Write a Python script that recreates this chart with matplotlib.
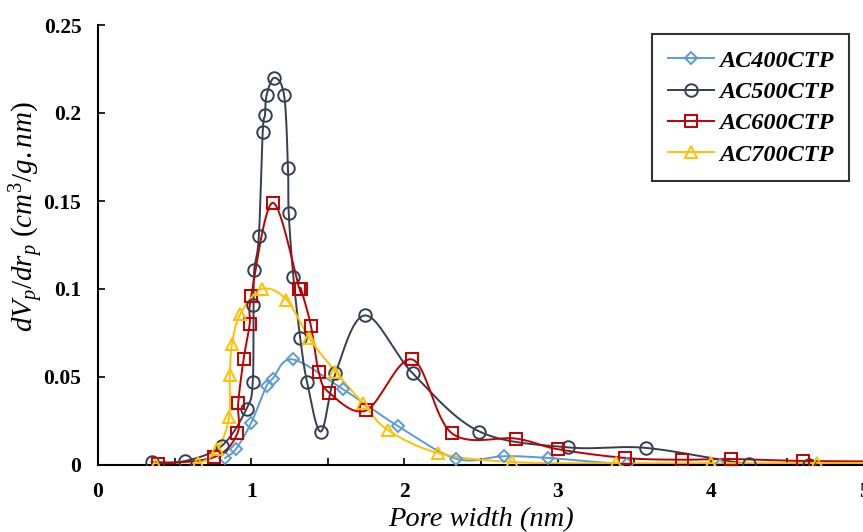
import numpy as np
import matplotlib
matplotlib.use("Agg")
import matplotlib.pyplot as plt
from matplotlib.ticker import MultipleLocator

plt.rcParams['font.family'] = ['Liberation Serif', 'DejaVu Serif']
plt.rcParams['mathtext.fontset'] = 'custom'
plt.rcParams['mathtext.rm'] = 'Liberation Serif'
plt.rcParams['mathtext.it'] = 'Liberation Serif:italic'

# data (pore width nm, dVp/drp)
x400 = [0.83, 0.90, 1.00, 1.10, 1.14, 1.27, 1.60, 1.96, 2.34, 2.65, 2.94, 3.45, 4.06, 5.2]
y400 = [0.004, 0.009, 0.024, 0.045, 0.049, 0.060, 0.043, 0.022, 0.0035, 0.005, 0.004, 0.0006, 0.0, 0.0]

x500 = [0.35, 0.57, 0.81, 0.97, 1.01, 1.015, 1.02, 1.05, 1.075, 1.09, 1.10, 1.15,
        1.215, 1.24, 1.245, 1.275, 1.32, 1.365, 1.455, 1.55, 1.745, 2.055, 2.49,
        3.07, 3.58, 4.25, 4.64, 5.2]
y500 = [0.0017, 0.0023, 0.011, 0.032, 0.047, 0.091, 0.111, 0.130, 0.189, 0.199, 0.210, 0.220,
        0.210, 0.169, 0.143, 0.107, 0.072, 0.047, 0.019, 0.052, 0.085, 0.052, 0.019,
        0.010, 0.0097, 0.0006, 0.0, 0.0]

x600 = [0.39, 0.76, 0.91, 0.915, 0.95, 0.99, 1.00, 1.14, 1.315, 1.325, 1.39, 1.44, 1.51,
        1.75, 2.05, 2.31, 2.73, 3.00, 3.44, 3.81, 4.13, 4.60, 5.2]
y600 = [0.0005, 0.0045, 0.018, 0.035, 0.060, 0.080, 0.096, 0.149, 0.100, 0.100, 0.079, 0.053, 0.041,
        0.031, 0.060, 0.018, 0.015, 0.009, 0.004, 0.003, 0.0034, 0.0023, 0.002]

x700 = [0.38, 0.65, 0.78, 0.855, 0.86, 0.875, 0.93, 1.07, 1.23, 1.38, 1.55, 1.73,
        1.89, 2.22, 2.70, 3.38, 4.00, 4.69, 5.2]
y700 = [0.0, 0.001, 0.009, 0.027, 0.051, 0.069, 0.086, 0.100, 0.094, 0.072, 0.053, 0.035,
        0.020, 0.0068, 0.0017, 0.001, 0.0011, 0.0011, 0.001]

names = ['AC400CTP', 'AC500CTP', 'AC600CTP', 'AC700CTP']
colors = ['#5B9BD5', '#333F50', '#C00000', '#FFC000']
markers = ['D', 'o', 's', '^']
msizes = [6, 9, 9, 9]


def smooth(xs, ys, n=20):
    # Excel-like smoothed line (Catmull-Rom bezier)
    p = np.column_stack([xs, ys]).astype(float)
    pts = np.vstack([p[0], p, p[-1]])
    out = []
    t = np.linspace(0, 1, n)[:, None]
    for i in range(1, len(pts) - 2):
        p0, p1, p2, p3 = pts[i - 1], pts[i], pts[i + 1], pts[i + 2]
        c1 = p1 + (p2 - p0) / 6
        c2 = p2 - (p3 - p1) / 6
        seg = ((1 - t) ** 3) * p1 + 3 * ((1 - t) ** 2) * t * c1 + 3 * (1 - t) * t ** 2 * c2 + t ** 3 * p2
        out.append(seg)
    out = np.vstack(out)
    return out[:, 0], out[:, 1]


fig = plt.figure(figsize=(8.63, 5.32), dpi=100)
ax = fig.add_axes([98 / 863, 67 / 532, 766 / 863, 440 / 532])

series = [(x400, y400), (x500, y500), (x600, y600), (x700, y700)]
for (xs, ys), nm, c, m, ms in zip(series, names, colors, markers, msizes):
    sx, sy = smooth(xs, ys)
    ax.plot(sx, sy, color=c, lw=1.4, zorder=2)
    ax.plot(xs, ys, ls='none', marker=m, ms=ms, mfc='none', mec=c, mew=1.4, zorder=3)
    # legend proxy
    ax.plot([], [], color=c, lw=1.4, marker=m, ms=ms, mfc='none', mec=c, mew=1.4, label=nm)

ax.set_xlim(0, 5)
ax.set_ylim(0, 0.25)
ax.xaxis.set_major_locator(MultipleLocator(1))
ax.xaxis.set_minor_locator(MultipleLocator(0.5))
ax.set_yticks([0, 0.05, 0.1, 0.15, 0.2, 0.25])
ax.set_yticklabels(['0', '0.05', '0.1', '0.15', '0.2', '0.25'])
ax.tick_params(direction='in', length=5, width=1.2, which='both', labelsize=15.5, pad=12)
for lab in ax.get_xticklabels() + ax.get_yticklabels():
    lab.set_fontweight('bold')
ax.spines['top'].set_visible(False)
ax.spines['right'].set_visible(False)
ax.spines['left'].set_linewidth(1.5)
ax.spines['bottom'].set_linewidth(1.5)

ax.set_xlabel('Pore width (nm)', fontsize=20.5, style='italic', labelpad=4)
ax.set_ylabel(r'$dV_p/dr_p\ (cm^3/g.nm)$', fontsize=21)
ax.yaxis.set_label_coords(-0.068, 0.565)

leg = ax.legend(loc='upper left', bbox_to_anchor=(652 / 863, 1 - 34 / 532),
                bbox_transform=fig.transFigure, borderaxespad=0, frameon=True, fancybox=False,
                edgecolor='black', handlelength=1.9, handletextpad=0.2, borderpad=0.65,
                labelspacing=0.38,
                prop={'family': 'Liberation Serif', 'weight': 'bold', 'style': 'italic', 'size': 17.5})
leg.get_frame().set_linewidth(1.5)

fig.savefig('out.png', dpi=100)
